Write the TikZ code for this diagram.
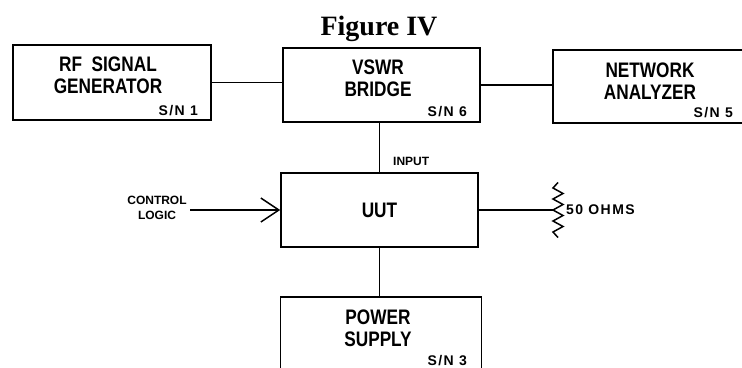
\documentclass[tikz,border=0pt]{standalone}
\usepackage{fontspec}
\setmainfont{Liberation Sans}
\newfontfamily\boxfont[FakeStretch=0.82]{Liberation Sans}
\newfontfamily\tagfont{Liberation Sans}
\newfontfamily\snfont[LetterSpace=10]{Liberation Sans}
\newfontfamily\titlefont{Liberation Serif}
\usepackage{tikz}
\usetikzlibrary{positioning,arrows.meta,calc}

\begin{document}
\begin{tikzpicture}[x=1pt, y=-1pt,
    unit/.style={draw, line width=1.6pt, minimum width=197pt, minimum height=74pt, inner sep=0pt},
    unitname/.style={align=center, inner sep=0pt, font=\boxfont\bfseries\fontsize{21}{22}\selectfont},
    serial/.style={anchor=base east, inner sep=0pt, font=\snfont\bfseries\fontsize{14}{14}\selectfont},
    tag/.style={align=center, font=\tagfont\bfseries\fontsize{12}{15}\selectfont},
    wire/.style={line width=1.5pt}]
  \useasboundingbox (0,0) rectangle (742,367);
  \clip (0,0) rectangle (742,367);

  \node[anchor=base, inner sep=0pt, font=\titlefont\bfseries\fontsize{28}{28}\selectfont] (title) at (379,35) {Figure IV};

  \node[unit, minimum width=198pt, minimum height=75pt] (rf) at (112,82.5) {};
  \node[unit] (vswr) at (381.5,85) {};
  \node[unit, minimum width=194pt, minimum height=73pt] (na) at (650,86.5) {};
  \node[unit, font=\boxfont\bfseries\fontsize{21}{22}\selectfont] (uut) at (379.5,210) {UUT};
  \node[unit, minimum width=201pt, minimum height=75pt] (ps) at (381,334.5) {};

  \node[unitname] (rfname) at (108,75) {RF~~SIGNAL\\GENERATOR};
  \node[unitname] (vswrname) at (378,78.5) {VSWR\\BRIDGE};
  \node[unitname] (naname) at (650,81) {NETWORK\\ANALYZER};
  \node[unitname] (psname) at (378,328.5) {POWER\\SUPPLY};

  \node[serial] (rfsn) at (198,115.5) {S/N~1};
  \node[serial] (vswrsn) at (467,116) {S/N~6};
  \node[serial] (nasn) at (733,117.5) {S/N~5};
  \node[serial] (pssn) at (467,365) {S/N~3};

  \node[tag, anchor=base west, inner sep=0pt] (input) at (393,165) {INPUT};
  \node[tag] (ctl) at (157,208) {CONTROL\\LOGIC};
  \node[serial, anchor=west] (ohms) at (566,210) {50~OHMS};

  \draw[wire] (rf.east) -- (rf.east -| vswr.west);
  \draw[wire] (vswr.east) -- (vswr.east -| na.west);
  \draw[wire] (uut.north |- vswr.south) -- (uut.north);
  \draw[wire] (uut.south) -- (uut.south |- ps.north);
  \draw[wire, -{Straight Barb[length=18pt, width=24pt]}] (ctl.east |- uut.west) -- (uut.west);

  \coordinate (res) at (553,210);
  \draw[wire] (uut.east) -- (res);
  \draw[wire] (558,182.5) \foreach \k in {1,...,9} { -- ({mod(\k,2)==1 ? 553 : 563}, {182.5+5.5*\k}) } -- (558,237.5);
\end{tikzpicture}
\end{document}
